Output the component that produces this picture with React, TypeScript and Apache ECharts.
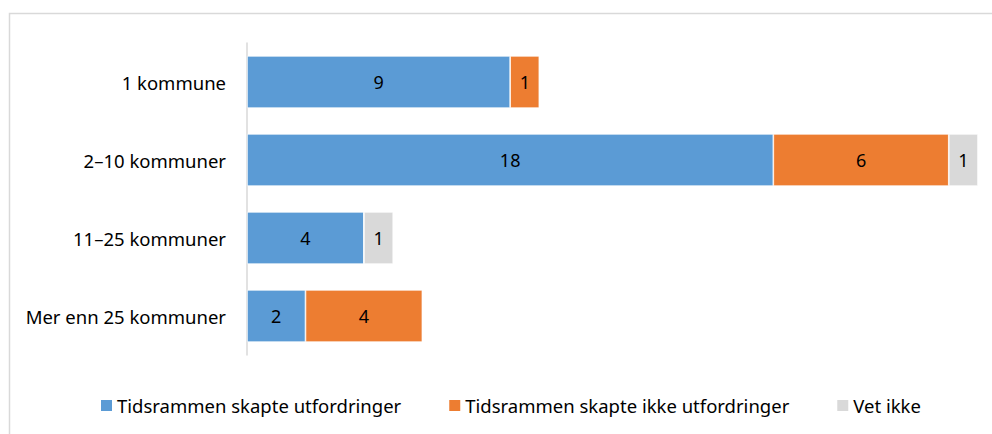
import React, { useEffect, useRef } from "react";
import * as echarts from "echarts";

const categories = ["1 kommune", "2–10 kommuner", "11–25 kommuner", "Mer enn 25 kommuner"];
const seriesNames = [
  "Tidsrammen skapte utfordringer",
  "Tidsrammen skapte ikke utfordringer",
  "Vet ikke",
];
const blueValues = [9, 18, 4, 2];
const orangeValues = [1, 6, 0, 4];
const grayValues = [0, 1, 1, 0];
const colors = ["#5B9BD5", "#ED7D31", "#D9D9D9"];

const FONT = "Noto Sans";

export default function App() {
  const ref = useRef<HTMLDivElement>(null);
  useEffect(() => {
    document.body.style.margin = "0";
    const chart = echarts.init(ref.current!, null, { renderer: "svg" });
    const all = [blueValues, orangeValues, grayValues];
    chart.setOption({
      animation: false,
      textStyle: { fontFamily: FONT },
      graphic: [
        {
          type: "rect",
          shape: { x: 9.5, y: 13.5, width: 1100, height: 600 },
          style: { fill: "none", stroke: "#D9D9D9", lineWidth: 1.5 },
          silent: true,
        },
      ],
      grid: { left: 247, top: 43, right: 14, height: 312 },
      xAxis: {
        type: "value",
        min: 0,
        max: 25,
        show: false,
        splitLine: { show: false },
      },
      yAxis: {
        type: "category",
        data: categories,
        inverse: true,
        axisLine: { show: true, lineStyle: { color: "#D9D9D9", width: 1.5 } },
        axisTick: { show: false },
        axisLabel: { color: "#000", fontSize: 18.5, fontFamily: FONT, margin: 21 },
      },
      legend: {
        data: seriesNames,
        top: 391,
        left: 94,
        icon: "rect",
        itemWidth: 13,
        itemHeight: 13,
        itemGap: 46,
        textStyle: { color: "#000", fontSize: 18.5, fontFamily: FONT, padding: [0, 0, 0, -1] },
      },
      series: seriesNames.map((name, i) => ({
        name,
        type: "bar",
        stack: "total",
        data: all[i],
        barCategoryGap: "33%",
        itemStyle: { color: colors[i], borderColor: "#fff", borderWidth: 0.7 },
        label: {
          show: true,
          position: "inside",
          color: "#000",
          fontSize: 18,
          fontFamily: FONT,
          formatter: (p: any) => (p.value ? String(p.value) : ""),
        },
      })),
    });
    return () => chart.dispose();
  }, []);
  return <div ref={ref} style={{ width: 992, height: 434 }} />;
}
